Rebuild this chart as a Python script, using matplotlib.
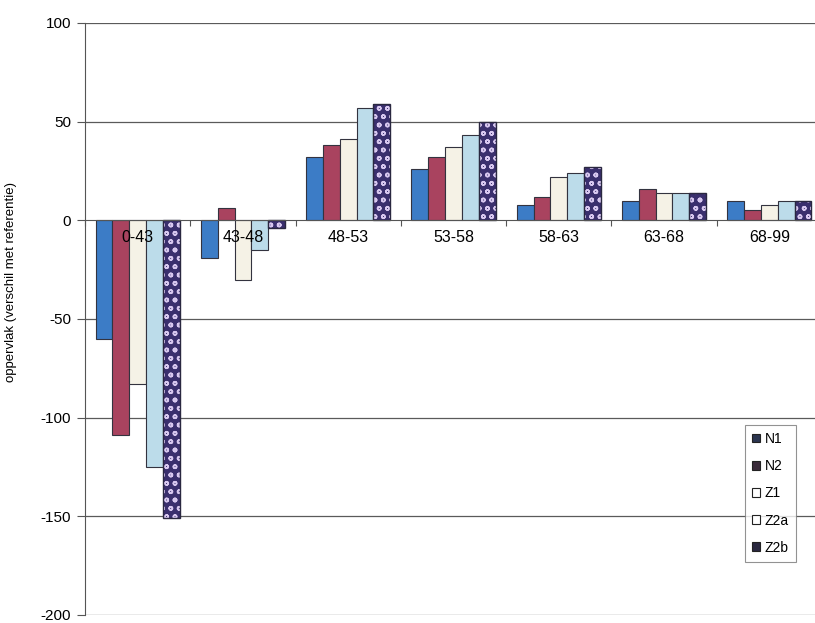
import matplotlib.pyplot as plt
from matplotlib.patches import Patch
import numpy as np

plt.rcParams['font.family'] = ['Liberation Sans', 'DejaVu Sans']
plt.rcParams['hatch.linewidth'] = 1.1
plt.rcParams['axes.unicode_minus'] = False

#--------------------------Data
klassen = ['0-43', '43-48', '48-53', '53-58', '58-63', '63-68', '68-99']
reeksen = ['N1', 'N2', 'Z1', 'Z2a', 'Z2b']

N1 = [-60, -19, 32, 26, 8, 10, 10]
N2 = [-109, 6, 38, 32, 12, 16, 5]
Z1 = [-83, -30, 41, 37, 22, 14, 8]
Z2a = [-125, -15, 57, 43, 24, 14, 10]
Z2b = [-151, -4, 59, 50, 27, 14, 10]
waarden = [N1, N2, Z1, Z2a, Z2b]

kleuren = ['#3c7cc6', '#a9435f', '#f5f2e6', '#bcdcea', '#3a2f6e']

#--------------------------Figure
fig = plt.figure(figsize=(8.15, 6.23), dpi=100)
ax = fig.add_axes([85 / 815, 1 - 615 / 623, (822 - 85) / 815, 592 / 623])

x = np.arange(len(klassen))
breedte = 0.16
for i, (naam, vals, kl) in enumerate(zip(reeksen, waarden, kleuren)):
    pos = x + (i - 2) * breedte
    if naam == 'Z2b':
        # dotted fill, outline drawn separately
        ax.bar(pos, vals, breedte, color=kl, hatch='oo', edgecolor='#d8c8f0',
               linewidth=0, zorder=2)
        ax.bar(pos, vals, breedte, facecolor='none', edgecolor='#2a2840',
               linewidth=1.0, zorder=2.1)
    else:
        ax.bar(pos, vals, breedte, color=kl, edgecolor='#33333f',
               linewidth=0.8, zorder=2)

# horizontal gridlines
for yv in [100, 50, -50, -100, -150, -200]:
    ax.axhline(yv, color='#5a5a5a', linewidth=0.9, zorder=0.5)

ax.set_ylim(-200, 100)
ax.set_xlim(-0.5, len(klassen) - 0.5)
ax.set_yticks([100, 50, 0, -50, -100, -150, -200])
ax.tick_params(axis='y', direction='out', length=6, labelsize=11,
               color='#555555', pad=4)
ax.set_ylabel('oppervlak (verschil met referentie)', fontsize=9.5)
ax.yaxis.set_label_coords((17 - 85) / 737, 0.562, transform=ax.transAxes)

# category axis on the zero line
ax.spines['bottom'].set_position(('data', 0))
ax.spines['bottom'].set_color('#555555')
ax.spines['left'].set_color('#555555')
ax.spines['top'].set_visible(False)
ax.spines['right'].set_visible(False)
ax.set_xticks(np.arange(len(klassen) + 1) - 0.5)
ax.set_xticklabels([])
ax.set_xticks(x, minor=True)
ax.set_xticklabels(klassen, minor=True, fontsize=11.5)
ax.tick_params(axis='x', which='major', direction='out', length=4, color='#555555')
ax.tick_params(axis='x', which='minor', length=0, pad=7)
ax.set_axisbelow(False)
for lab in ax.get_xticklabels(minor=True):
    lab.set_zorder(5)

# legend keys
sleutels = ['#2b3550', '#3a2b3a', '#ffffff', '#ffffff', '#2a2840']
handles = [Patch(facecolor=c, edgecolor='#222222', linewidth=0.8, label=n)
           for n, c in zip(reeksen, sleutels)]
leg = ax.legend(handles=handles, loc='upper left',
                bbox_to_anchor=(745 / 815, 1 - 425 / 623),
                bbox_transform=fig.transFigure, fontsize=10,
                frameon=True, fancybox=False, edgecolor='#777777',
                handlelength=0.6, handleheight=0.6, handletextpad=0.3,
                labelspacing=0.95, borderpad=0.5, borderaxespad=0)
leg.get_frame().set_linewidth(0.8)

fig.savefig('out.png', dpi=100)
plt.close()
